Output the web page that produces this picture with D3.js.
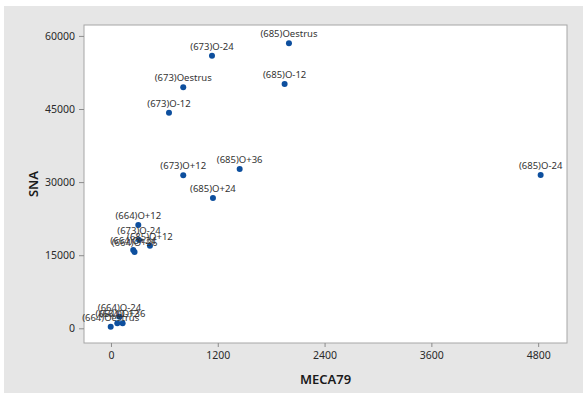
<!DOCTYPE html>
<html>
<head>
<meta charset="utf-8">
<script src="https://cdn.jsdelivr.net/npm/d3@7"></script>
<style>
  body { margin: 0; background: #fff; }
  text { font-family: "Noto Sans", "Open Sans", sans-serif; }
</style>
</head>
<body>
<div id="chart"></div>
<script>
// sample labels and values
const labels = [
  "(685)Oestrus", "(673)O-24", "(673)Oestrus", "(685)O-12", "(673)O-12",
  "(673)O+12", "(685)O+36", "(685)O+24", "(685)O-24",
  "(664)O+12", "(673)O-24", "(685)O+12", "(664)O+24", "(664)O+36",
  "(664)O-24", "(664)Oestrus", "(664)O-12", "(664)O+36"
];
const meca79 = [2000, 1135, 812, 1951, 652, 812, 1446, 1146, 4828,
  307, 315, 438, 250, 265, 96, -3, 71, 131];
const sna = [58480, 55940, 49450, 50130, 44240, 31400, 32690, 26740, 31460,
  21200, 18120, 16950, 16070, 15660, 2380, 330, 1030, 1030];

const xTicks = [0, 1200, 2400, 3600, 4800];
const yTicks = [0, 15000, 30000, 45000, 60000];

const width = 588, height = 398;
const plot = { left: 84, top: 25, right: 567, bottom: 343 };

const svg = d3.select("#chart").append("svg")
  .attr("width", width)
  .attr("height", height);

svg.append("rect")
  .attr("x", 4).attr("y", 6)
  .attr("width", 579).attr("height", 387)
  .attr("fill", "#e6e6e6");

svg.append("rect")
  .attr("x", plot.left).attr("y", plot.top)
  .attr("width", plot.right - plot.left)
  .attr("height", plot.bottom - plot.top)
  .attr("fill", "#fff")
  .attr("stroke", "#a6a6a6")
  .attr("stroke-width", 1);

const x = d3.scaleLinear().domain([-303, 5124]).range([plot.left, plot.right]);
const y = d3.scaleLinear().domain([-3016, 62240]).range([plot.bottom, plot.top]);

const xAxis = svg.append("g")
  .attr("transform", `translate(0,${plot.bottom})`)
  .call(d3.axisBottom(x).tickValues(xTicks).tickSize(4).tickPadding(5).tickFormat(d3.format("d")));

const yAxis = svg.append("g")
  .attr("transform", `translate(${plot.left},0)`)
  .call(d3.axisLeft(y).tickValues(yTicks).tickSize(5).tickPadding(4).tickFormat(d3.format("d")));

[xAxis, yAxis].forEach(g => {
  g.select(".domain").remove();
  g.selectAll(".tick line").attr("stroke", "#8c8c8c");
  g.selectAll(".tick text")
    .attr("fill", "#2a2a2a")
    .style("font-size", "10.5px");
});

svg.append("text")
  .attr("x", (plot.left + plot.right) / 2)
  .attr("y", 384)
  .attr("text-anchor", "middle")
  .attr("fill", "#1a1a1a")
  .style("font-size", "13px")
  .style("font-weight", "600")
  .text("MECA79");

svg.append("text")
  .attr("transform", `translate(38,${(plot.top + plot.bottom) / 2}) rotate(-90)`)
  .attr("text-anchor", "middle")
  .attr("fill", "#1a1a1a")
  .style("font-size", "13px")
  .style("font-weight", "600")
  .text("SNA");

const points = labels.map((l, i) => ({ label: l, x: meca79[i], y: sna[i] }));

svg.append("g").selectAll("circle")
  .data(points)
  .enter()
  .append("circle")
  .attr("cx", d => x(d.x))
  .attr("cy", d => y(d.y))
  .attr("r", 3)
  .attr("fill", "#0d4f9e");

svg.append("g").selectAll("text")
  .data(points)
  .enter()
  .append("text")
  .attr("x", d => x(d.x))
  .attr("y", d => y(d.y) - 6)
  .attr("text-anchor", "middle")
  .attr("fill", "#333")
  .style("font-size", "9.5px")
  .text(d => d.label);
</script>
</body>
</html>
